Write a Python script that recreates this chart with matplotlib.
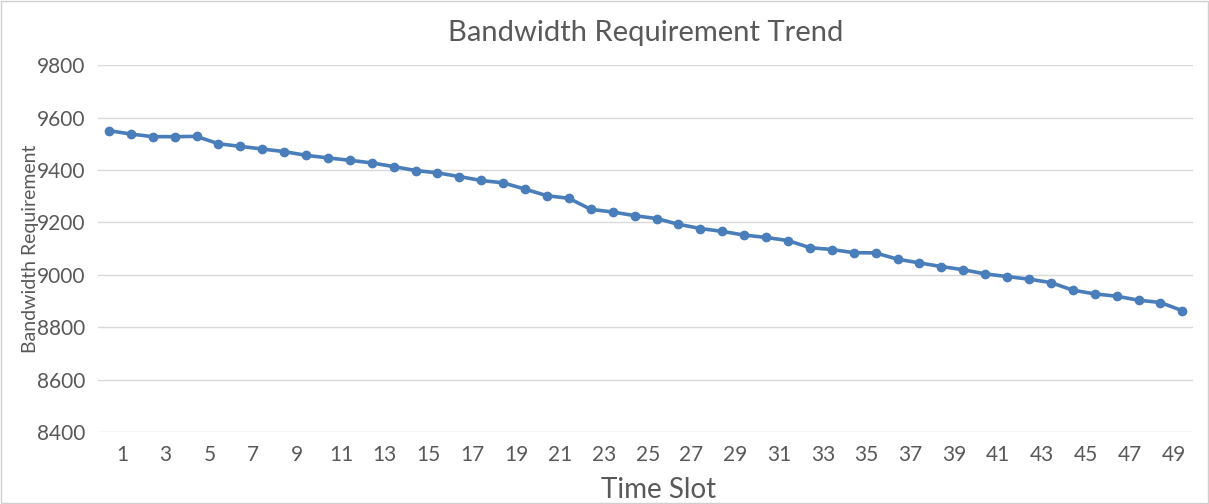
import matplotlib
matplotlib.use("Agg")
import matplotlib.pyplot as plt
import matplotlib.transforms as mtransforms
from matplotlib.patches import Rectangle

# Bandwidth requirement per time slot.
time_slots = list(range(1, 51))
bandwidth = [
    9550, 9537, 9527, 9527, 9528, 9500, 9490, 9480, 9470, 9456,
    9446, 9437, 9427, 9413, 9398, 9389, 9375, 9360, 9351, 9327,
    9302, 9292, 9250, 9240, 9226, 9215, 9193, 9177, 9166, 9152,
    9143, 9131, 9104, 9097, 9085, 9084, 9060, 9046, 9032, 9020,
    9004, 8994, 8984, 8971, 8942, 8928, 8919, 8904, 8895, 8864,
]
x_ticks = list(range(1, 50, 2))
y_ticks = list(range(8400, 9801, 200))

TEXT = "#595959"
GRID = "#d9d9d9"
LINE = "#4a7ebb"

plt.rcParams["font.family"] = ["Lato", "DejaVu Sans"]

fig = plt.figure(figsize=(12.09, 5.04), dpi=100)
ax = fig.add_axes([0.081, 0.142, 0.906, 0.729])

ax.plot(time_slots, bandwidth, color=LINE, linewidth=2.6,
        marker="o", markersize=6, zorder=3)

ax.set_xlim(0.5, 50.5)
ax.set_ylim(8400, 9800)
ax.set_xticks(x_ticks)
ax.set_xticklabels([str(t) for t in x_ticks])
ax.set_yticks(y_ticks)
ax.grid(axis="y", color=GRID, linewidth=1)
ax.set_axisbelow(True)
for s in ax.spines.values():
    s.set_visible(False)
ax.tick_params(axis="both", length=0, colors=TEXT, labelsize=15)
ax.tick_params(axis="x", pad=9)
ax.tick_params(axis="y", pad=9)

# the category labels sit a little right of the points in the original
offset = mtransforms.ScaledTranslation(13 / 100, 0, fig.dpi_scale_trans)
for lbl in ax.get_xticklabels():
    lbl.set_transform(lbl.get_transform() + offset)

ax.set_title("Bandwidth Requirement Trend", color=TEXT, fontsize=21, pad=17)
ax.set_xlabel("Time Slot", color=TEXT, fontsize=20, labelpad=9)
ax.xaxis.label.set_transform(ax.xaxis.label.get_transform() + offset)
ax.set_ylabel("Bandwidth Requirement", color=TEXT, fontsize=14)
ax.yaxis.set_label_coords(-0.054, 0.5)

# light frame around the chart area
fig.patches.append(Rectangle((0.001, 0.002), 0.998, 0.996, transform=fig.transFigure,
                             fill=False, edgecolor="#d0d0d0", linewidth=1))

fig.savefig("out.png", dpi=100)
